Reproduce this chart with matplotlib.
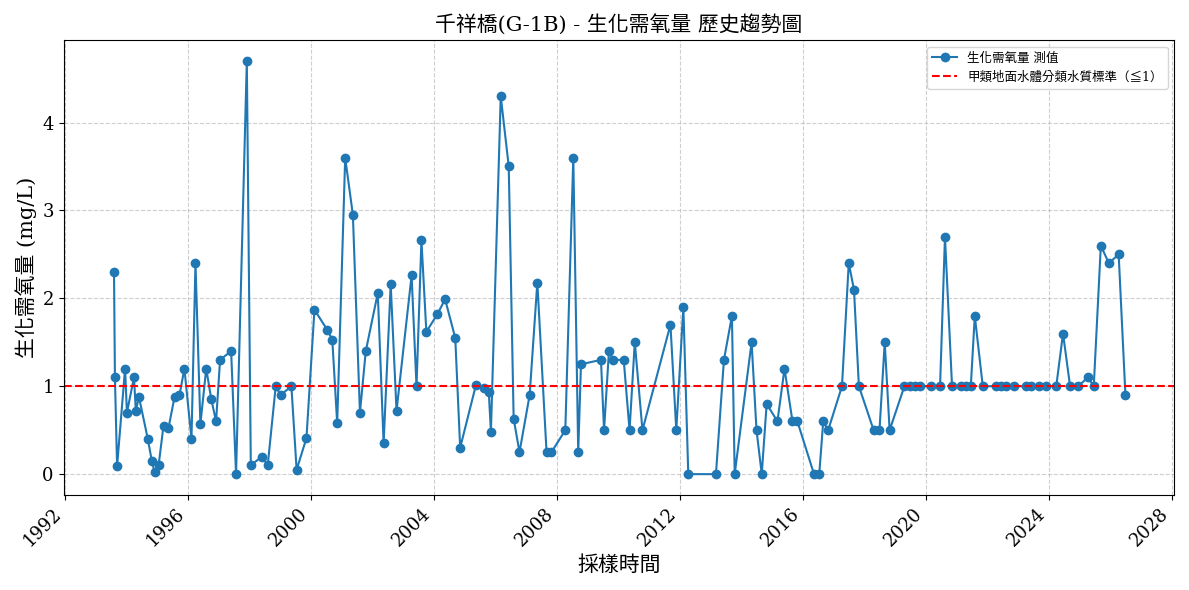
import numpy as np
import matplotlib
matplotlib.use("Agg")
import matplotlib.pyplot as plt

plt.rcParams['font.family'] = ['DejaVu Serif', 'Noto Sans CJK TC']

years = [1993.58, 1993.61, 1993.68, 1993.94, 1994.00, 1994.23, 1994.29, 1994.39, 1994.68, 1994.81,
         1994.90, 1995.03, 1995.19, 1995.35, 1995.55, 1995.71, 1995.87, 1996.10, 1996.23, 1996.39,
         1996.58, 1996.74, 1996.90, 1997.03, 1997.39, 1997.55, 1997.90, 1998.03, 1998.39, 1998.58,
         1998.84, 1999.00, 1999.35, 1999.52, 1999.84, 2000.10, 2000.52, 2000.68, 2000.84, 2001.10,
         2001.35, 2001.58, 2001.77, 2002.16, 2002.35, 2002.58, 2002.77, 2003.26, 2003.42, 2003.58,
         2003.74, 2004.10, 2004.35, 2004.68, 2004.84, 2005.35, 2005.61, 2005.77, 2005.84, 2006.16,
         2006.42, 2006.58, 2006.77, 2007.10, 2007.35, 2007.65, 2007.81, 2008.26, 2008.52, 2008.68,
         2008.77, 2009.42, 2009.52, 2009.68, 2009.81, 2010.16, 2010.35, 2010.52, 2010.77, 2011.68,
         2011.87, 2012.10, 2012.26, 2013.16, 2013.42, 2013.68, 2013.77, 2014.32, 2014.48, 2014.65,
         2014.81, 2015.16, 2015.39, 2015.65, 2015.81, 2016.35, 2016.52, 2016.65, 2016.81, 2017.26,
         2017.48, 2017.65, 2017.81, 2018.29, 2018.48, 2018.65, 2018.81, 2019.29, 2019.48, 2019.65,
         2019.81, 2020.16, 2020.45, 2020.61, 2020.84, 2021.13, 2021.29, 2021.45, 2021.58, 2021.84,
         2022.26, 2022.42, 2022.61, 2022.84, 2023.26, 2023.42, 2023.68, 2023.90, 2024.23, 2024.45,
         2024.68, 2024.94, 2025.26, 2025.45, 2025.68, 2025.94, 2026.26, 2026.48]
bod = [2.3, 1.1, 0.09, 1.2, 0.7, 1.1, 0.72, 0.88, 0.4, 0.15,
       0.02, 0.1, 0.55, 0.52, 0.88, 0.9, 1.2, 0.4, 2.4, 0.57,
       1.2, 0.86, 0.6, 1.3, 1.4, 0.0, 4.7, 0.1, 0.2, 0.1,
       1.0, 0.9, 1.0, 0.05, 0.41, 1.87, 1.64, 1.53, 0.58, 3.6,
       2.95, 0.7, 1.4, 2.06, 0.35, 2.16, 0.72, 2.26, 1.0, 2.66,
       1.62, 1.82, 1.99, 1.55, 0.3, 1.01, 0.98, 0.94, 0.48, 4.3,
       3.5, 0.63, 0.25, 0.9, 2.18, 0.25, 0.25, 0.5, 3.6, 0.25,
       1.25, 1.3, 0.5, 1.4, 1.3, 1.3, 0.5, 1.5, 0.5, 1.7,
       0.5, 1.9, 0.0, 0.0, 1.3, 1.8, 0.0, 1.5, 0.5, 0.0,
       0.8, 0.6, 1.2, 0.6, 0.6, 0.0, 0.0, 0.6, 0.5, 1.0,
       2.4, 2.1, 1.0, 0.5, 0.5, 1.5, 0.5, 1.0, 1.0, 1.0,
       1.0, 1.0, 1.0, 2.7, 1.0, 1.0, 1.0, 1.0, 1.8, 1.0,
       1.0, 1.0, 1.0, 1.0, 1.0, 1.0, 1.0, 1.0, 1.0, 1.6,
       1.0, 1.0, 1.1, 1.0, 2.6, 2.4, 2.5, 0.9]
tick_years = list(range(1992, 2029, 4))
standard = 1.0

fig, ax = plt.subplots(figsize=(11.89, 5.9), dpi=100)
ax.plot(years, bod, marker='o', color='#1f77b4', markersize=6, label='生化需氧量 測值')
ax.axhline(standard, color='red', linestyle='--', label='甲類地面水體分類水質標準（≦1）')
ax.set_xlim(1991.94, 2028.06)
ax.set_xticks(tick_years)
ax.set_xticklabels([str(y) for y in tick_years], rotation=45, ha='right', fontsize=13)
ax.tick_params(axis='y', labelsize=13)
ax.set_title('千祥橋(G-1B) - 生化需氧量 歷史趨勢圖', fontsize=15)
ax.set_xlabel('採樣時間', fontsize=15)
ax.set_ylabel('生化需氧量 (mg/L)', fontsize=15)
ax.grid(True, linestyle='--', alpha=0.6)
ax.legend(loc='upper right', fontsize=9)
fig.tight_layout()
fig.savefig('out.png')
